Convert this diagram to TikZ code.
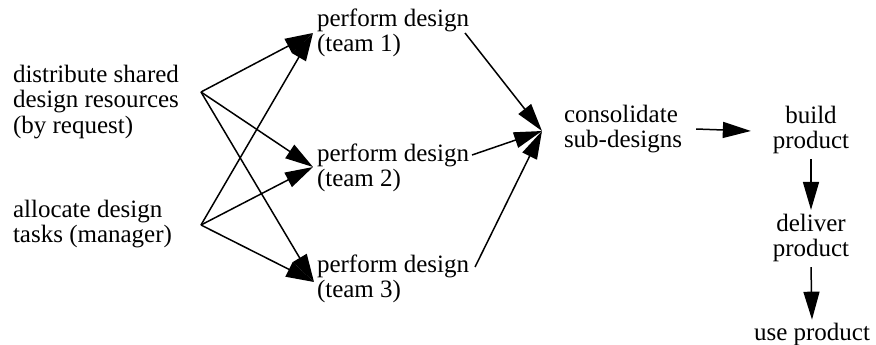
\documentclass[tikz,border=0pt]{standalone}
\usepackage{fontspec}
\setmainfont{Liberation Serif}
\usetikzlibrary{arrows.meta}
\begin{document}
\begin{tikzpicture}[x=1pt,y=-1pt,
  txt/.style={inner sep=0pt, outer sep=0pt, align=left, font=\fontsize{25}{25.5}\selectfont},
  arr/.style={line width=1.5pt, -{Triangle[length=28pt,width=16pt]}}]
\useasboundingbox (0,0) rectangle (876,345);
\node[txt, anchor=west] (dist) at (13,102) {distribute shared\\design resources\\(by request)};
\node[txt, anchor=west] (alloc) at (13,224) {allocate design\\tasks (manager)};
\node[txt, anchor=west] (t1) at (317,33) {perform design\\(team 1)};
\node[txt, anchor=west] (t2) at (317,168) {perform design\\(team 2)};
\node[txt, anchor=west] (t3) at (317,279) {perform design\\(team 3)};
\node[txt, anchor=west] (cons) at (564,129) {consolidate\\sub-designs};
\node[txt, align=center] (build) at (811,130) {build\\product};
\node[txt, align=center] (deliver) at (811,238) {deliver\\product};
\node[txt] (use) at (812,334) {use product};
\coordinate (dfan) at (201,92);
\coordinate (afan) at (201,225);
\coordinate (merge) at (542,131);
\foreach \s in {dfan,afan}{
  \draw[arr] (\s) -- ([xshift=-4pt]t1.west);
  \draw[arr] (\s) -- ([xshift=-4pt,yshift=1pt]t2.west);
  \draw[arr] (\s) -- ([xshift=-3pt,yshift=-3pt]t3.west);
}
\draw[arr] ([xshift=-4pt]t1.east) -- (merge);
\draw[arr] ([xshift=3pt,yshift=13pt]t2.east) -- (merge);
\draw[arr] ([xshift=6pt,yshift=12pt]t3.east) -- (merge);
\draw[arr] ([xshift=14pt]cons.east) -- ([xshift=-22pt,yshift=-1pt]build.west);
\draw[arr] ([yshift=-5pt]build.south) -- ([yshift=4pt]deliver.north);
\draw[arr] ([yshift=-5pt]deliver.south) -- ([yshift=3pt]use.north);
\end{tikzpicture}
\end{document}
